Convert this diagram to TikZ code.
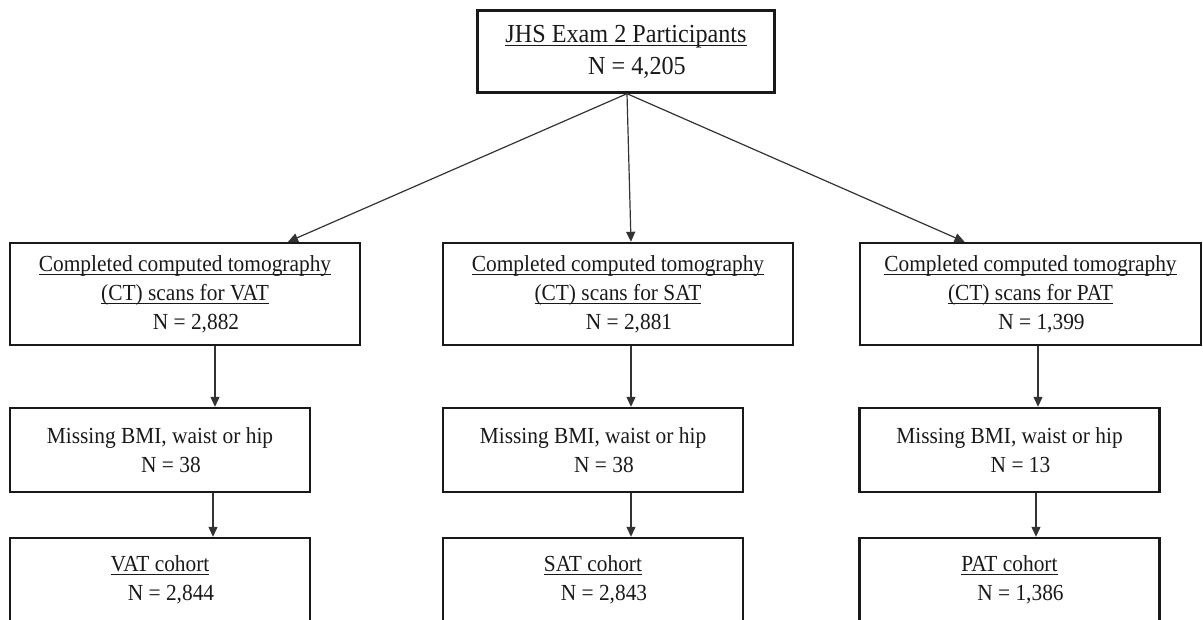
\documentclass[tikz,border=0pt]{standalone}
\usepackage{fontspec}
\setmainfont{Liberation Serif}[FakeStretch=0.93]
\usetikzlibrary{arrows.meta,calc}
\newsavebox\myulbox
\newcommand{\myul}[1]{\sbox\myulbox{#1}\rlap{\rule[-3.5pt]{\wd\myulbox}{1.1pt}}\usebox\myulbox}
\begin{document}
\begin{tikzpicture}[x=1pt,y=-1pt,
  box/.style={draw=black!90, line width=2.4pt, inner sep=0pt, align=center,
    text=black!90, font=\fontsize{23}{29}\selectfont},
  topbox/.style={box, minimum width=297pt, minimum height=82pt,
    font=\fontsize{26}{32}\selectfont},
  ctbox/.style={box, minimum width=350pt, minimum height=102pt},
  missbox/.style={box, minimum width=300pt, minimum height=84pt},
  cohbox/.style={box, minimum width=300pt, minimum height=84pt},
  arr/.style={draw=black!80, line width=1.2pt, -{Triangle[length=10pt,width=9pt]}},
]
\useasboundingbox (0,0) rectangle (1203,620);
\clip (0,0) rectangle (1203,620);

\node[topbox] (top) at (626,51.5) {\myul{JHS Exam 2 Participants}\\\hspace*{22pt}N = 4,205};

\node[ctbox] (vat1) at (185,294) {\myul{Completed computed tomography}\\\myul{(CT) scans for VAT}\\\hspace*{22pt}N = 2,882};
\node[ctbox] (sat1) at (618,294) {\myul{Completed computed tomography}\\\myul{(CT) scans for SAT}\\\hspace*{22pt}N = 2,881};
\node[ctbox, minimum width=341pt] (pat1) at (1030.5,294) {\myul{Completed computed tomography}\\\myul{(CT) scans for PAT}\\\hspace*{22pt}N = 1,399};

\node[missbox] (vat2) at (160,450) {Missing BMI, waist or hip\\\hspace*{22pt}N = 38};
\node[missbox] (sat2) at (593,450) {Missing BMI, waist or hip\\\hspace*{22pt}N = 38};
\node[missbox] (pat2) at (1009.5,450) {Missing BMI, waist or hip\\\hspace*{22pt}N = 13};

\node[cohbox] (vat3) at (160,580) {\myul{VAT cohort}\\\hspace*{22pt}N = 2,844};
\node[cohbox] (sat3) at (593,580) {\myul{SAT cohort}\\\hspace*{22pt}N = 2,843};
\node[cohbox] (pat3) at (1009.5,580) {\myul{PAT cohort}\\\hspace*{22pt}N = 1,386};

\draw[arr] ([xshift=1pt]top.south) -- ([xshift=103pt]vat1.north);
\draw[arr] ([xshift=1pt]top.south) -- ([xshift=13pt]sat1.north);
\draw[arr] ([xshift=1pt]top.south) -- ([xshift=-66pt]pat1.north);

\draw[arr] ([xshift=30pt]vat1.south) -- ([xshift=30pt]vat1.south |- vat2.north);
\draw[arr] ([xshift=13pt]sat1.south) -- ([xshift=13pt]sat1.south |- sat2.north);
\draw[arr] ([xshift=7.5pt]pat1.south) -- ([xshift=7.5pt]pat1.south |- pat2.north);

\draw[arr] ([xshift=53pt]vat2.south) -- ([xshift=53pt]vat2.south |- vat3.north);
\draw[arr] ([xshift=38pt]sat2.south) -- ([xshift=38pt]sat2.south |- sat3.north);
\draw[arr] ([xshift=26.5pt]pat2.south) -- ([xshift=26.5pt]pat2.south |- pat3.north);
\end{tikzpicture}
\end{document}
